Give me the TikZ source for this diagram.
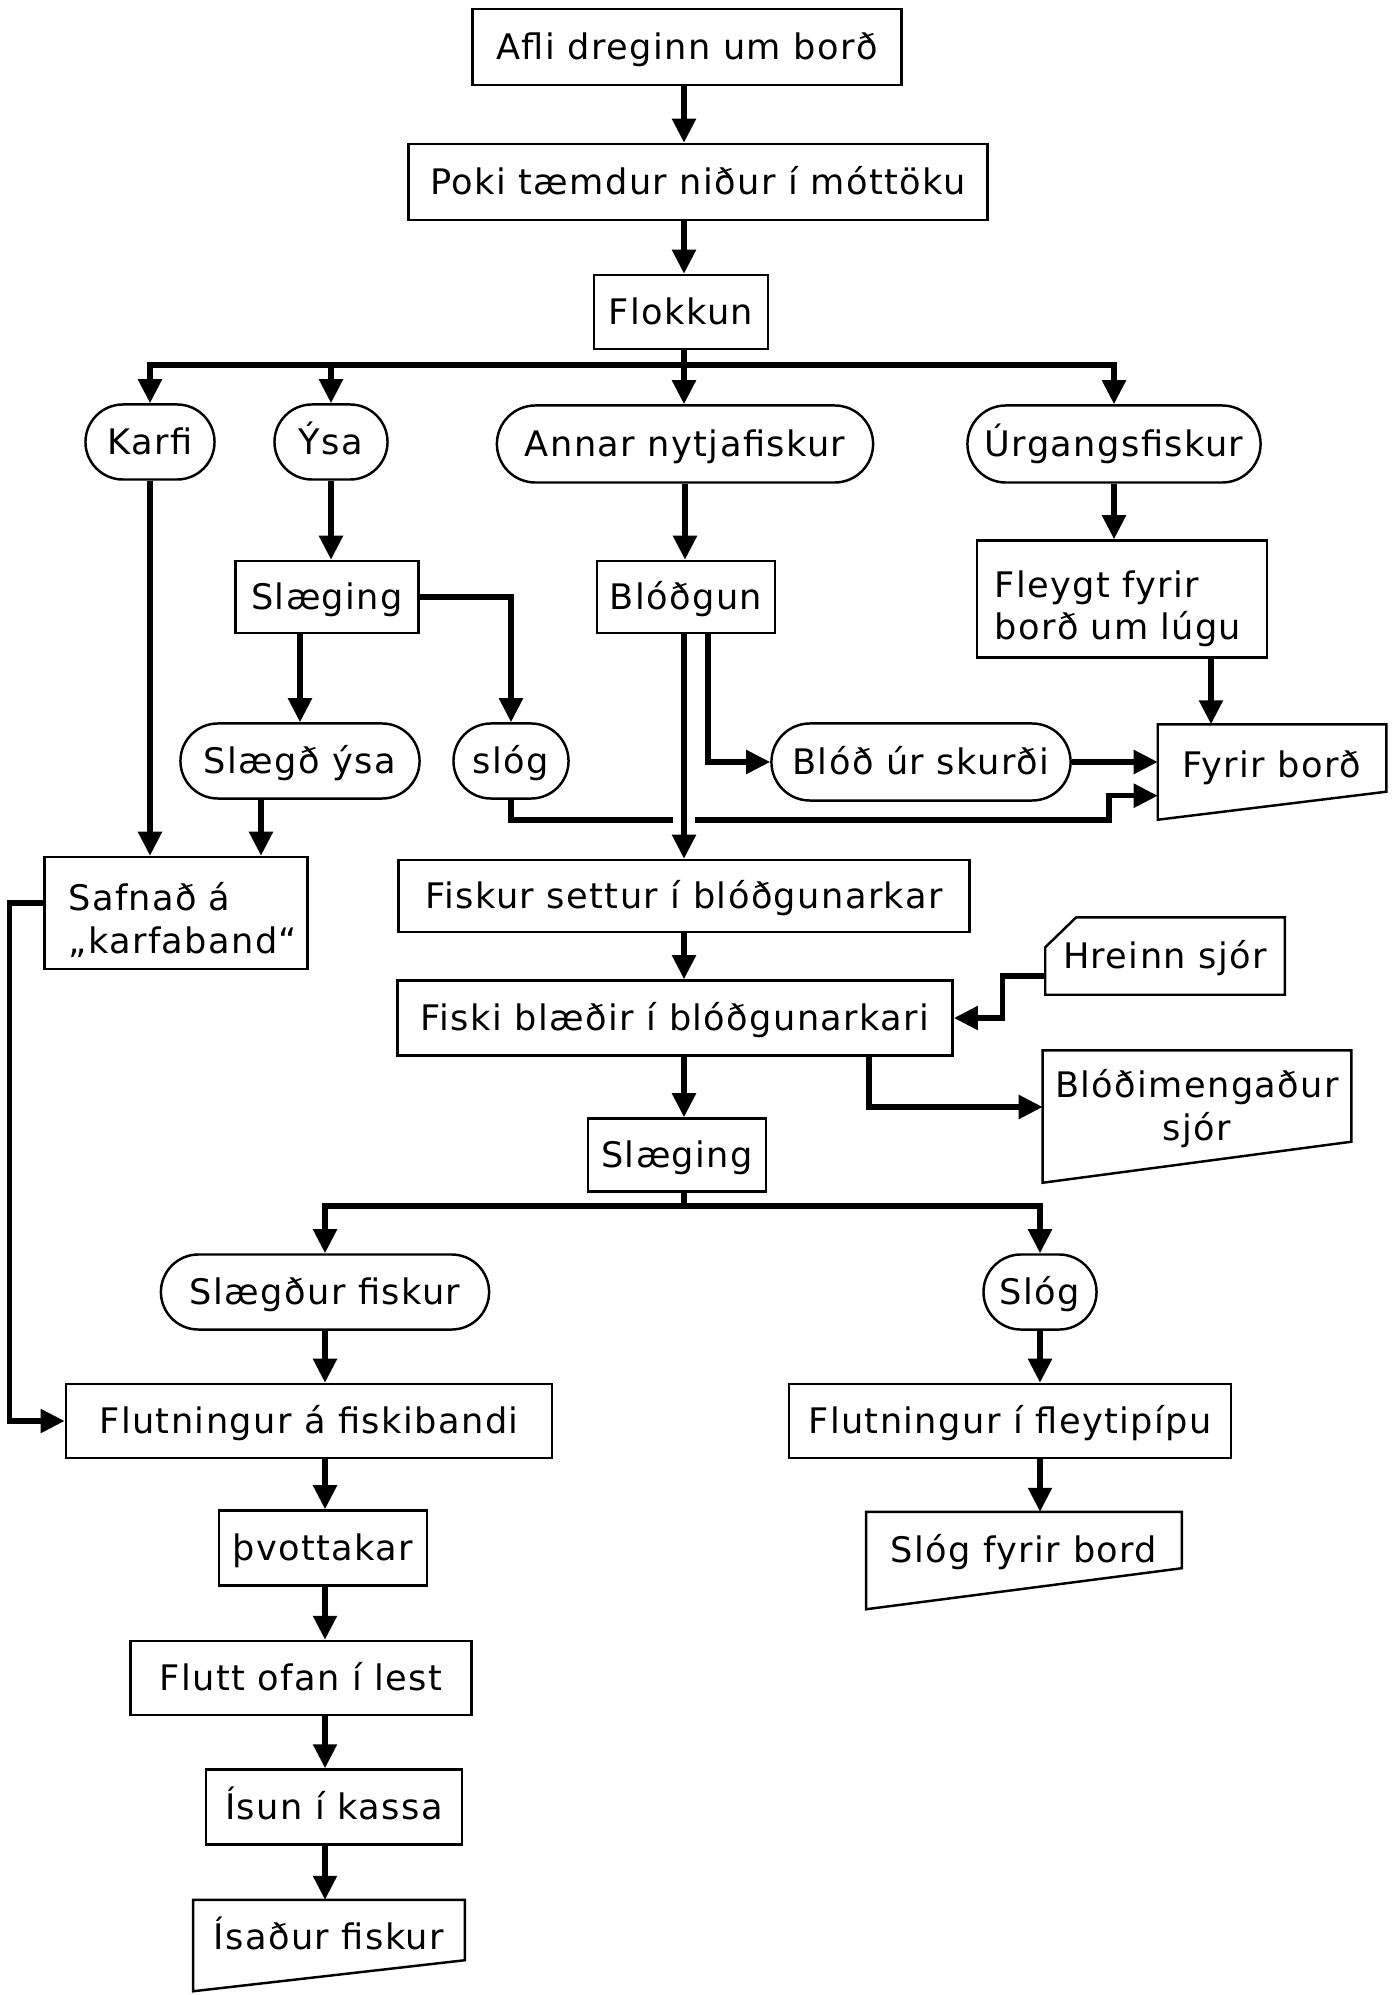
\documentclass[tikz,border=0pt]{standalone}
\usepackage{fontspec}
\setmainfont{DejaVu Sans}[LetterSpace=4]
\usetikzlibrary{arrows.meta,calc,shapes.misc}

\begin{document}
\begin{tikzpicture}[x=0.01cm, y=-0.01cm,
  box/.style={draw, line width=0.7pt, rectangle, minimum height=0.74cm, inner sep=0pt, text height=0.73em, text depth=0pt},
  oval/.style={draw, line width=0.7pt, rounded rectangle, minimum height=0.75cm, inner sep=0pt, text height=0.73em, text depth=0pt},
  card/.style={rectangle, inner sep=0pt, text height=1.1em, text depth=0pt},
  multi/.style={text height=, text depth=},
  flow/.style={line width=1.5pt, -{Triangle[length=0.24cm,width=0.23cm]}},
  link/.style={line width=1.5pt}]
  \useasboundingbox (0,0) rectangle (1394,1995);

  % skuffa: efri brun bein, nedri brun skaholl
  \def\manual#1#2{\draw[line width=0.7pt] (#1.north west) -- (#1.north east) -- (#1.south east) -- ($(#1.south west)+(0,#2)$) -- cycle;}

  % adalrod
  \node[box, minimum width=4.29cm, minimum height=0.76cm] (afli) at (687,47) {Afli dreginn um borð};
  \node[box, minimum width=5.79cm, minimum height=0.76cm] (poki) at (698,182) {Poki tæmdur niður í móttöku};
  \node[box, minimum width=1.74cm] (flokkun) at (681,312) {Flokkun};

  % flokkar
  \node[oval, minimum width=1.29cm] (karfi) at (150,442) {Karfi};
  \node[oval, minimum width=1.13cm] (ysa) at (331,442) {Ýsa};
  \node[oval, minimum width=3.76cm, minimum height=0.77cm] (annar) at (685,444) {Annar nytjafiskur};
  \node[oval, minimum width=2.93cm, minimum height=0.77cm] (urgangs) at (1114,444) {Úrgangsfiskur};

  \node[box, minimum width=1.83cm, minimum height=0.72cm] (slaeging) at (327,597) {Slæging};
  \node[box, minimum width=1.78cm, minimum height=0.72cm] (blodgun) at (686,597) {Blóðgun};
  \node[box, multi, minimum width=2.9cm, minimum height=1.17cm, text width=2.54cm, align=left] (fleygt) at (1122,599) {\rule{0pt}{1.3em}Fleygt fyrir\\borð um lúgu};

  \node[oval, minimum width=2.39cm] (slaegdysa) at (300,761) {Slægð ýsa};
  \node[oval, minimum width=1.15cm] (slog) at (511,761) {slóg};
  \node[oval, minimum width=2.99cm, minimum height=0.77cm] (blod) at (921,762) {Blóð úr skurði};
  \node[card, minimum width=2.27cm, minimum height=0.66cm] (fyrir) at (1272,758) {Fyrir borð};
  \manual{fyrir}{28}

  \node[box, multi, minimum width=2.63cm, minimum height=1.12cm, text width=2.15cm, align=left] (safnad) at (176,913) {\rule{0pt}{1.2em}Safnað á\\„karfaband“};
  \node[box, minimum width=5.71cm, minimum height=0.72cm] (fiskset) at (684,896) {Fiskur settur í blóðgunarkar};

  \node[card, minimum width=2.38cm, minimum height=0.76cm, text height=0.73em] (hreinn) at (1165,956) {Hreinn sjór};
  \draw[line width=0.7pt] ($(hreinn.north west)+(31,0)$) -- (hreinn.north east) -- (hreinn.south east) -- (hreinn.south west) -- ($(hreinn.north west)+(0,30)$) -- cycle;

  \node[box, minimum width=5.55cm, minimum height=0.75cm] (fiskibl) at (675,1018) {Fiski blæðir í blóðgunarkari};
  \node[card, minimum width=3.07cm, minimum height=0.9cm, text height=25.2pt, text depth=0.1pt, align=center] (blodim) at (1197,1096) {Blóðimengaður\\sjór};
  \manual{blodim}{41}
  \node[box, minimum width=1.78cm, minimum height=0.73cm] (slaeging2) at (677,1155) {Slæging};

  % eftir slaegingu
  \node[oval, minimum width=3.28cm] (slfisk) at (325,1292) {Slægður fiskur};
  \node[oval, minimum width=1.13cm] (slog2) at (1040,1292) {Slóg};
  \node[box, minimum width=4.86cm] (flutnA) at (309,1421) {Flutningur á fiskibandi};
  \node[box, minimum width=4.42cm] (flutnI) at (1010,1421) {Flutningur í fleytipípu};
  \node[box, minimum width=2.08cm, minimum height=0.75cm] (thvott) at (323,1548) {þvottakar};
  \node[card, minimum width=3.14cm, minimum height=0.55cm, text height=1.3em] (slogfyrir) at (1024,1540) {Slóg fyrir bord};
  \manual{slogfyrir}{41}
  \node[box, minimum width=3.41cm] (flutt) at (301,1678) {Flutt ofan í lest};
  \node[box, minimum width=2.56cm, minimum height=0.75cm] (isun) at (334,1807) {Ísun í kassa};
  \node[card, minimum width=2.7cm, minimum height=0.59cm] (isadur) at (329,1930) {Ísaður fiskur};
  \manual{isadur}{31}

  % tengingar
  \coordinate (axis) at (684,0);
  \draw[flow] (axis |- afli.south) -- (axis |- poki.north);
  \draw[flow] (axis |- poki.south) -- (axis |- flokkun.north);
  \coordinate (bus) at (684,365);
  \draw[link] (axis |- flokkun.south) -- (bus);
  \draw[flow] (bus) -| (karfi.north);
  \draw[flow] (bus) -| (ysa.north);
  \draw[flow] (bus) -- (axis |- annar.north);
  \draw[flow] (bus) -| (urgangs.north);

  \draw[flow] (karfi.south) -- (karfi.south |- safnad.north);
  \draw[flow] (ysa.south) -- (ysa.south |- slaeging.north);
  \draw[flow] (slaeging.east) -| (slog.north);
  \draw[flow] (slaegdysa.north |- slaeging.south) -- (slaegdysa.north);
  \coordinate (s1) at ($(slaegdysa.south)+(-39,0)$);
  \draw[flow] (s1) -- (s1 |- safnad.north);
  \draw[flow] (annar.south) -- (annar.south |- blodgun.north);
  \draw[flow] (urgangs.south) -- (urgangs.south |- fleygt.north);

  \coordinate (b1) at ($(blodgun.south)+(22,0)$);
  \draw[flow] (b1) |- (blod.west);
  \draw[flow] (blod.east) -- (blod.east -| fyrir.west);
  \coordinate (f1) at ($(fleygt.south)+(89,0)$);
  \draw[flow] (f1) -- (f1 |- fyrir.north);
  \coordinate (jog) at (1109,820);
  \draw[flow] (slog.south) |- (jog) |- ($(fyrir.south west)+(0,4)$);
  \draw[flow, preaction={draw=white, line width=6pt, -, shorten <=1.7cm, shorten >=0.25cm}] (axis |- blodgun.south) -- (axis |- fiskset.north);

  \draw[flow] (axis |- fiskset.south) -- (axis |- fiskibl.north);
  \draw[flow] ($(hreinn.west)+(0,20)$) -- ++(-43,0) |- (fiskibl.east);
  \coordinate (b2) at ($(fiskibl.south)+(194,0)$);
  \draw[flow] (b2) |- ($(blodim.west)+(0,11)$);
  \draw[flow] (axis |- fiskibl.south) -- (axis |- slaeging2.north);

  \coordinate (bus2) at (684,1206);
  \draw[link] (axis |- slaeging2.south) -- (bus2);
  \draw[flow] (bus2) -| (slfisk.north);
  \draw[flow] (bus2) -| (slog2.north);

  \draw[flow] (slfisk.south) -- (slfisk.south |- flutnA.north);
  \draw[flow] ($(safnad.west)+(0,-10)$) -- ++(-34,0) |- (flutnA.west);
  \draw[flow] (slog2.south) -- (slog2.south |- flutnI.north);
  \draw[flow] (slog2.south |- flutnI.south) -- (slog2.south |- slogfyrir.north);
  \draw[flow] (slfisk.south |- flutnA.south) -- (slfisk.south |- thvott.north);
  \draw[flow] (slfisk.south |- thvott.south) -- (slfisk.south |- flutt.north);
  \draw[flow] (slfisk.south |- flutt.south) -- (slfisk.south |- isun.north);
  \draw[flow] (slfisk.south |- isun.south) -- (slfisk.south |- isadur.north);
\end{tikzpicture}
\end{document}
